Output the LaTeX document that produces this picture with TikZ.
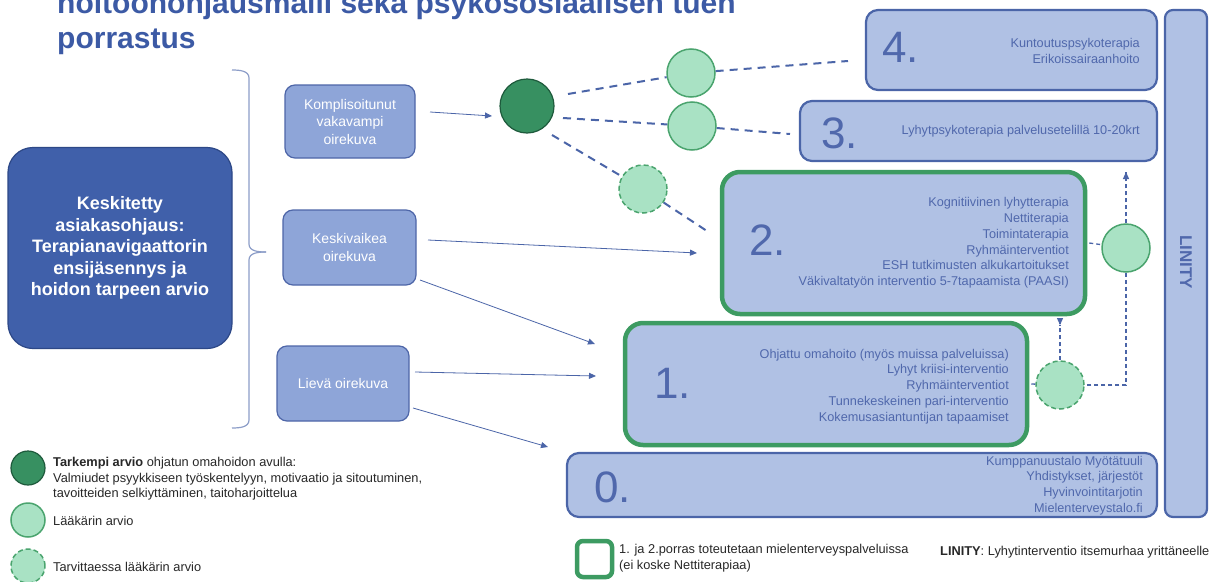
\documentclass[tikz,border=0pt]{standalone}
\usepackage{fontspec}
\setmainfont{Liberation Sans}
\usetikzlibrary{arrows.meta}
\definecolor{titleblue}{RGB}{60,90,165}
\definecolor{bigfill}{RGB}{64,96,170}
\definecolor{bigdraw}{RGB}{45,72,135}
\definecolor{midfill}{RGB}{142,165,216}
\definecolor{middraw}{RGB}{78,102,168}
\definecolor{tierfill}{RGB}{176,193,228}
\definecolor{tierdraw}{RGB}{75,101,168}
\definecolor{tiertext}{RGB}{80,104,172}
\definecolor{gborder}{RGB}{61,155,98}
\definecolor{darkg}{RGB}{55,144,97}
\definecolor{darkgb}{RGB}{30,90,60}
\definecolor{lightg}{RGB}{169,226,196}
\definecolor{lightgb}{RGB}{74,164,110}
\definecolor{conn}{RGB}{75,101,168}
\definecolor{bracec}{RGB}{140,157,200}
\definecolor{legtext}{RGB}{40,40,40}
\tikzset{
  tier/.style={draw=tierdraw, fill=tierfill, line width=2.2pt, rounded corners=12pt, inner sep=0pt},
  gtier/.style={tier, draw=gborder, line width=4.5pt, rounded corners=18pt},
  mid/.style={draw=middraw, fill=midfill, line width=1.2pt, rounded corners=10pt, text=white, align=center, font=\fontsize{14}{17.5}\selectfont, inner sep=0pt},
  num/.style={text=tiertext, font=\fontsize{44}{44}\selectfont, anchor=west, inner sep=0pt},
  items/.style={text=tiertext, font=\fontsize{12.7}{15.8}\selectfont, align=right, anchor=east, inner sep=0pt},
  dcirc/.style={circle, draw=darkgb, fill=darkg, line width=1.2pt, minimum size=54pt, inner sep=0pt},
  lcirc/.style={circle, draw=lightgb, fill=lightg, line width=1.5pt, minimum size=48pt, inner sep=0pt},
  ldcirc/.style={lcirc, dash pattern=on 5pt off 3pt},
  arr/.style={draw=conn, line width=0.8pt, -{Triangle[length=7pt,width=6pt]}},
  dline/.style={draw=conn, line width=2pt, dash pattern=on 8pt off 6pt},
  dthin/.style={draw=conn, line width=1.3pt, dash pattern=on 4pt off 3pt},
  tipthin/.style={-{Triangle[length=7pt,width=6pt]}, solid},
  legend/.style={text=legtext, font=\fontsize{12.8}{15.5}\selectfont, align=left, anchor=west, inner sep=0pt},
  brace/.style={draw=bracec, line width=1.2pt}
}
\begin{document}
\begin{tikzpicture}[x=1pt,y=-1pt]
\useasboundingbox (0,0) rectangle (1220,581);
\fill[white] (0,0) rectangle (1220,581);
% title
\node[anchor=base west, inner sep=0pt, font=\fontsize{30}{36}\selectfont\bfseries, text=titleblue] (t1) at (57,13) {hoitoonohjausmalli sekä psykososiaalisen tuen};
\node[anchor=base west, inner sep=0pt, font=\fontsize{30}{36}\selectfont\bfseries, text=titleblue] (t2) at (57,48) {porrastus};
% big box
\node[draw=bigdraw, fill=bigfill, line width=1.2pt, rounded corners=25pt, minimum width=224pt, minimum height=201pt, text=white, align=center, font=\bfseries\fontsize{18}{21.5}\selectfont, inner sep=0pt] (big) at (120,248) {Keskitetty\\asiakasohjaus:\\Terapianavigaattorin\\ensijäsennys ja\\hoidon tarpeen arvio};
% brace
\draw[brace] (232,70) to[out=0,in=90] (249,78) -- (249,244) to[out=-90,in=180] (266,252);
\draw[brace] (266,252) to[out=180,in=90] (249,260) -- (249,420) to[out=-90,in=0] (232,428);
% middle boxes
\node[mid, minimum width=130pt, minimum height=73pt] (komp) at (350,121.5) {Komplisoitunut\\vakavampi\\oirekuva};
\node[mid, minimum width=133pt, minimum height=75pt] (keski) at (349.5,247.5) {Keskivaikea\\oirekuva};
\node[mid, minimum width=132pt, minimum height=75pt] (lieva) at (343,383.5) {Lievä oirekuva};
% tier boxes
\node[tier, minimum width=291pt, minimum height=80pt] (b4) at (1011.5,50) {};
\node[tier, minimum width=357pt, minimum height=60pt] (b3) at (978.5,131) {};
\node[gtier, minimum width=363pt, minimum height=142pt] (b2) at (903.5,243) {};
\node[gtier, minimum width=402pt, minimum height=122pt] (b1) at (826,384) {};
\node[tier, minimum width=590pt, minimum height=64pt] (b0) at (862,485) {};
\node[tier, minimum width=42pt, minimum height=507pt, rounded corners=8pt] (lin) at (1186,263.5) {};
\node[rotate=-90, text=tiertext, font=\bfseries\fontsize{17}{17}\selectfont] (lintext) at (1186,262) {LINITY};
% numbers
\node[num] (n4) at (882,47) {4.};
\node[num] (n3) at (821,133) {3.};
\node[num] (n2) at (749,240) {2.};
\node[num] (n1) at (654,383) {1.};
\node[num] (n0) at (594,487) {0.};
% items
\node[items] (i4) at (1140,51) {Kuntoutuspsykoterapia\\Erikoissairaanhoito};
\node[items] (i3) at (1140,131) {Lyhytpsykoterapia palvelusetelillä 10-20krt};
\node[items] (i2) at (1069,243) {Kognitiivinen lyhytterapia\\Nettiterapia\\Toimintaterapia\\Ryhmäinterventiot\\ESH tutkimusten alkukartoitukset\\Väkivaltatyön interventio 5-7tapaamista (PAASI)};
\node[items] (i1) at (1009,386.5) {Ohjattu omahoito (myös muissa palveluissa)\\Lyhyt kriisi-interventio\\Ryhmäinterventiot\\Tunnekeskeinen pari-interventio\\Kokemusasiantuntijan tapaamiset};
\node[items] (i0) at (1143,485.5) {Kumppanuustalo Myötätuuli\\Yhdistykset, järjestöt\\Hyvinvointitarjotin\\Mielenterveystalo.fi};
% circles
\node[dcirc] (dk) at (527,106) {};
\node[lcirc] (c4) at (691,73) {};
\node[lcirc] (c3) at (692,126) {};
\node[ldcirc] (c2) at (643,189) {};
\node[lcirc] (cr) at (1126,248) {};
\node[ldcirc] (crd) at (1060,385) {};
% arrow coordinates
\coordinate (a1s) at (430,112); \coordinate (a1e) at (492,116);
\coordinate (a2s) at (428,240); \coordinate (a2e) at (697,253);
\coordinate (a3s) at (420,280); \coordinate (a3e) at (595,344);
\coordinate (a4s) at (415,372); \coordinate (a4e) at (596,376);
\coordinate (a5s) at (413,408); \coordinate (a5e) at (548,447);
\draw[arr] (a1s) -- (a1e);
\draw[arr] (a2s) -- (a2e);
\draw[arr] (a3s) -- (a3e);
\draw[arr] (a4s) -- (a4e);
\draw[arr] (a5s) -- (a5e);
% dashed connectors
\coordinate (d1s) at (568,94); \coordinate (d1e) at (848,61);
\coordinate (d2s) at (563,118); \coordinate (d2e) at (790,134);
\coordinate (d3s) at (552,135); \coordinate (d3e) at (710,233);
\draw[dline] (d1s) -- (c4);
\draw[dline] (c4) -- (d1e);
\draw[dline] (d2s) -- (c3);
\draw[dline] (c3) -- (d2e);
\draw[dline] (d3s) -- (c2);
\draw[dline] (c2) -- (d3e);
\coordinate (d5e) at (1126,172);
\coordinate (d8e) at (1060,325);
\draw[dthin] ([xshift=2pt]b2.east) -- (cr);
\draw[dthin] (cr) -- (d5e);
\draw[conn, tipthin, line width=1.3pt] ([yshift=-1pt]d5e) -- (d5e);
\draw[dthin] (cr) |- (crd);
\draw[dthin] ([xshift=2pt]b1.east) -- (crd);
\draw[dthin] (crd) -- (d8e);
\draw[conn, tipthin, line width=1.3pt] ([yshift=1pt]d8e) -- (d8e);
% legend left
\node[dcirc, minimum size=34pt] (lg1) at (28,468) {};
\node[legend] (lt1) at (53,479) {\textbf{Tarkempi arvio} ohjatun omahoidon avulla:\\Valmiudet psyykkiseen työskentelyyn, motivaatio ja sitoutuminen,\\tavoitteiden selkiyttäminen, taitoharjoittelua};
\node[lcirc, minimum size=34pt] (lg2) at (28,520) {};
\node[legend] (lt2) at (53,521) {Lääkärin arvio};
\node[ldcirc, minimum size=34pt] (lg3) at (28,566) {};
\node[legend] (lt3) at (53,567) {Tarvittaessa lääkärin arvio};
% legend right
\node[draw=gborder, fill=white, line width=4.5pt, rounded corners=6pt, minimum width=35pt, minimum height=36pt, inner sep=0pt] (lg4) at (594.5,559) {};
\node[legend] (lt4) at (619,558) {1. ja 2.porras toteutetaan mielenterveyspalveluissa\\(ei koske Nettiterapiaa)};
\node[legend] (lt5) at (940,552) {\textbf{LINITY}: Lyhytinterventio itsemurhaa yrittäneelle};
\end{tikzpicture}
\end{document}
